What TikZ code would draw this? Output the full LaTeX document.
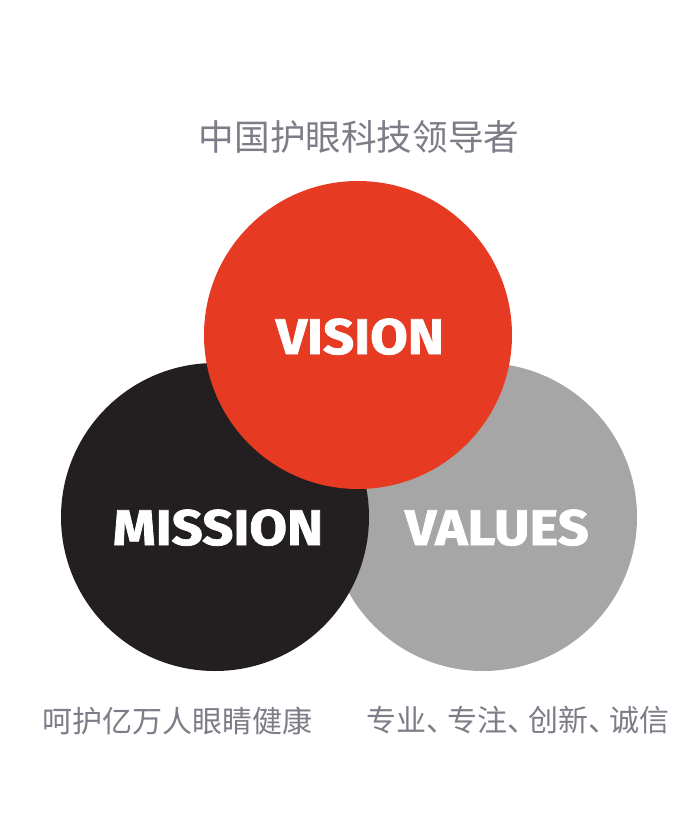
\documentclass[tikz,border=0pt]{standalone}
\usepackage{fontspec}
\usepackage{tikz}
\newfontfamily\cjk{Noto Sans CJK SC}
\newfontfamily\headfont{Fira Sans}[BoldFeatures={FakeBold=1.5}]
\definecolor{visionred}{RGB}{230,59,34}
\definecolor{missionblack}{RGB}{35,31,32}
\definecolor{valuesgray}{RGB}{166,166,166}
\definecolor{captiongray}{RGB}{125,124,135}
\newcommand{\dun}{、\hspace{-9pt}}

\begin{document}
\begin{tikzpicture}[x=1pt, y=-1pt,
    disc/.style = {circle, fill, minimum size=#1,
                   inner sep=0pt, outer sep=0pt},
    disc/.default = 308pt
    ]
            % styles
            \tikzstyle{word} = [text=white, anchor=base, inner sep=0pt,
                                xscale=1.09, transform shape,
                                font=\headfont\bfseries\fontsize{50}{50}\selectfont]
            \tikzstyle{caption} = [text=captiongray, inner sep=0pt,
                                   font=\cjk\fontsize{30}{30}\selectfont]

            \useasboundingbox (0,0) rectangle (700,835);

            \node (values) at (483,517) [disc, fill=valuesgray] {};
            \node (mission) at (215,517) [disc, fill=missionblack] {};
            \node (vision) at (358,335) [disc, fill=visionred] {};

            \node (visiontxt) at (360,354) [word] {VISION};
            \node (missiontxt) at (218,545) [word] {MISSION};
            \node (valuestxt) at (497,545) [word] {VALUES};

            \node (visioncap) at (359,137.5) [caption, font=\cjk\fontsize{35.6}{36}\selectfont] {中国护眼科技领导者};
            \node (missioncap) at (177.5,720.5) [caption] {呵护亿万人眼睛健康};
            \node (valuescap) at (518,720.5) [caption] {专业\dun 专注\dun 创新\dun 诚信};
    \end{tikzpicture}
\end{document}
